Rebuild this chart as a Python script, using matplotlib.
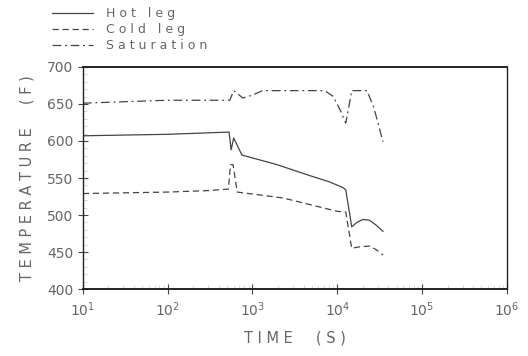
import numpy as np
import matplotlib
matplotlib.use("Agg")
import matplotlib.pyplot as plt
from matplotlib.ticker import LogLocator, MultipleLocator, NullFormatter

# Data (time in s, temperature in F)
hot_t = [10, 100, 300, 530, 560, 600, 750, 1950, 4800, 8000, 11700, 12600,
         14800, 17000, 20000, 24000, 29000, 34600]
hot_T = [607, 609, 611, 612, 588, 604, 581, 568, 553, 545, 537, 534,
         484, 490, 494, 493, 486, 478]

cold_t = [10, 100, 300, 520, 550, 590, 660, 2300, 10000, 12600, 14800,
          18000, 24000, 29000, 34600]
cold_T = [529, 531, 533, 535, 568, 568, 531, 523, 505, 504, 455,
          457, 458, 453, 446]

sat_t = [10, 30, 100, 300, 540, 600, 770, 1000, 1320, 7100, 9000, 11000,
         12600, 14800, 22400, 27000, 34600]
sat_T = [651, 653, 655, 655, 655, 668, 658, 662, 668, 668, 660, 640,
         624, 668, 668, 645, 599]

GRAY = '#666666'
LINE = '#444444'

fig = plt.figure(figsize=(5.28, 3.56), dpi=100)
ax = fig.add_axes([0.157, 0.188, 0.803, 0.624])

l1, = ax.plot(hot_t, hot_T, color=LINE, lw=0.9, label='H o t   l e g')
l2, = ax.plot(cold_t, cold_T, color=LINE, lw=0.9, dashes=[5, 3], label='C o l d   l e g')
l3, = ax.plot(sat_t, sat_T, color=LINE, lw=0.9, dashes=[7, 3, 1.5, 3], label='S a t u r a t i o n')

ax.set_xscale('log')
ax.set_xlim(10, 1e6)
ax.set_ylim(400, 700)
ax.yaxis.set_major_locator(MultipleLocator(50))
ax.yaxis.set_minor_locator(MultipleLocator(10))
ax.xaxis.set_major_locator(LogLocator(base=10))
ax.xaxis.set_minor_locator(LogLocator(base=10, subs=np.arange(2, 10)))
ax.xaxis.set_minor_formatter(NullFormatter())

ax.tick_params(which='major', direction='inout', length=7, width=0.8,
               colors=LINE, labelcolor=GRAY, labelsize=10)
ax.tick_params(which='minor', direction='in', length=3, width=0.4, colors='#bbbbbb')
ax.tick_params(axis='x', which='major', pad=5)

for s in ax.spines.values():
    s.set_linewidth(1.0)
    s.set_color('#222222')
ax.spines['top'].set_linewidth(1.4)
ax.spines['bottom'].set_linewidth(1.4)

ax.set_xlabel('T I M E     ( S )', color=GRAY, fontsize=10.5, labelpad=8)
ax.set_ylabel('T E M P E R A T U R E     ( F )', color=GRAY, fontsize=10.5, labelpad=9)

fig.legend(handles=[l1, l2, l3], loc='upper left', bbox_to_anchor=(52 / 528, 1 - 7 / 356),
           frameon=False, fontsize=9, labelcolor=GRAY, handlelength=3.3,
           handletextpad=1.0, labelspacing=0.25, borderpad=0, borderaxespad=0)

fig.savefig('out.png', dpi=100)
